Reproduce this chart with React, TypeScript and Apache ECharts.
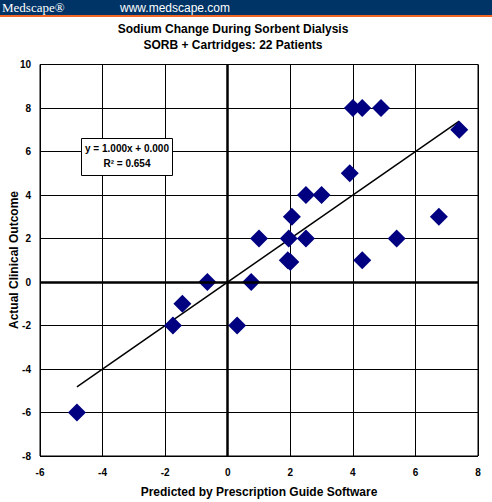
import React, { useEffect, useRef } from "react";
import * as echarts from "echarts";

const predicted = [4.0, 4.3, 4.9, 7.4, 3.9, 2.5, 3.0, 2.05, 6.75, 1.0, 1.95, 2.5, 5.4, 1.92, 2.0, 4.3, 0.75, -0.65, -1.45, -1.75, 0.3, -4.82];
const actual = [8, 8, 8, 7, 5, 4, 4, 3, 3, 2, 2, 2, 2, 1, 0.92, 1, 0, 0, -1, -2, -2, -6];
const slope = 1.0;
const intercept = 0.0;
const r2 = 0.654;
const xTicks = [-6, 8, 2];
const yTicks = [-8, 10, 2];

const FONT = "'Liberation Sans', Arial, sans-serif";

export default function App() {
  const ref = useRef<HTMLDivElement>(null);
  useEffect(() => {
    if (!ref.current) return;
    const chart = echarts.init(ref.current, undefined, { renderer: "svg" });
    const pts = predicted.map((x, i) => [x, actual[i]]);
    const minX = Math.min(...predicted);
    const maxX = Math.max(...predicted);
    const trend = [
      [minX, slope * minX + intercept],
      [maxX, slope * maxX + intercept],
    ];
    chart.setOption({
      animation: false,
      backgroundColor: "#ffffff",
      grid: { left: 40, right: 14, top: 64.5, bottom: 46, show: true, borderColor: "#000", borderWidth: 1, containLabel: false, outerBoundsMode: "none" },
      xAxis: {
        type: "value",
        min: xTicks[0],
        max: xTicks[1],
        interval: xTicks[2],
        axisLine: { show: false, onZero: false },
        axisTick: { show: false },
        splitLine: { show: true, lineStyle: { color: "#000", width: 1 } },
        axisLabel: { color: "#000", fontFamily: FONT, fontWeight: "bold", fontSize: 10, margin: 11 },
        name: "Predicted by Prescription Guide Software",
        nameLocation: "middle",
        nameGap: 30,
        nameTextStyle: { color: "#000", fontFamily: FONT, fontWeight: "bold", fontSize: 12 },
      },
      yAxis: {
        type: "value",
        min: yTicks[0],
        max: yTicks[1],
        interval: yTicks[2],
        axisLine: { show: false, onZero: false },
        axisTick: { show: false },
        splitLine: { show: true, lineStyle: { color: "#000", width: 1 } },
        axisLabel: { color: "#000", fontFamily: FONT, fontWeight: "bold", fontSize: 10, margin: 9 },
      },
      series: [
        {
          type: "line",
          data: [],
          silent: true,
          markLine: {
            silent: true,
            symbol: "none",
            label: { show: false },
            lineStyle: { color: "#000", width: 2.5, type: "solid" },
            data: [{ xAxis: 0 }, { yAxis: 0 }],
          },
        },
        {
          type: "line",
          data: trend,
          showSymbol: false,
          symbol: "none",
          lineStyle: { color: "#000", width: 1.5 },
          z: 3,
        },
        {
          type: "scatter",
          data: pts,
          symbol: "diamond",
          symbolSize: 18,
          itemStyle: { color: "#000080", opacity: 1 },
          z: 4,
        },
      ],
      graphic: [
        { type: "rect", shape: { x: 0, y: 0, width: 492, height: 15 }, style: { fill: "#003366" } },
        { type: "rect", shape: { x: 0, y: 15, width: 492, height: 2 }, style: { fill: "#f26522" } },
        { type: "text", x: 2, y: 1, style: { text: "Medscape®", fill: "#fff", font: "13px 'Liberation Serif', 'Times New Roman', serif" } },
        { type: "text", x: 120, y: 2, style: { text: "www.medscape.com", fill: "#fff", font: "12px " + FONT } },
        { type: "text", x: 233, y: 29, style: { text: "Sodium Change During Sorbent Dialysis", fill: "#000", font: "bold 12px " + FONT, align: "center", verticalAlign: "middle" } },
        { type: "text", x: 233, y: 45, style: { text: "SORB + Cartridges: 22 Patients", fill: "#000", font: "bold 12px " + FONT, align: "center", verticalAlign: "middle" } },
        { type: "text", x: 14, y: 260, rotation: Math.PI / 2, style: { text: "Actual Clinical Outcome", fill: "#000", font: "bold 12px " + FONT, align: "center", verticalAlign: "middle" } },
        { type: "rect", shape: { x: 81.5, y: 138.5, width: 91, height: 37 }, style: { fill: "#fff", stroke: "#000", lineWidth: 1 }, z: 10 },
        { type: "text", x: 127, y: 148, z: 11, style: { text: "y = " + slope.toFixed(3) + "x + " + intercept.toFixed(3), fill: "#000", font: "bold 10px " + FONT, align: "center", verticalAlign: "middle" } },
        { type: "text", x: 127, y: 163, z: 11, style: { text: "R² = " + r2.toFixed(3), fill: "#000", font: "bold 10px " + FONT, align: "center", verticalAlign: "middle" } },
      ],
    });
    return () => chart.dispose();
  }, []);
  return <div ref={ref} style={{ position: "fixed", left: 0, top: 0, width: 492, height: 502 }} />;
}
